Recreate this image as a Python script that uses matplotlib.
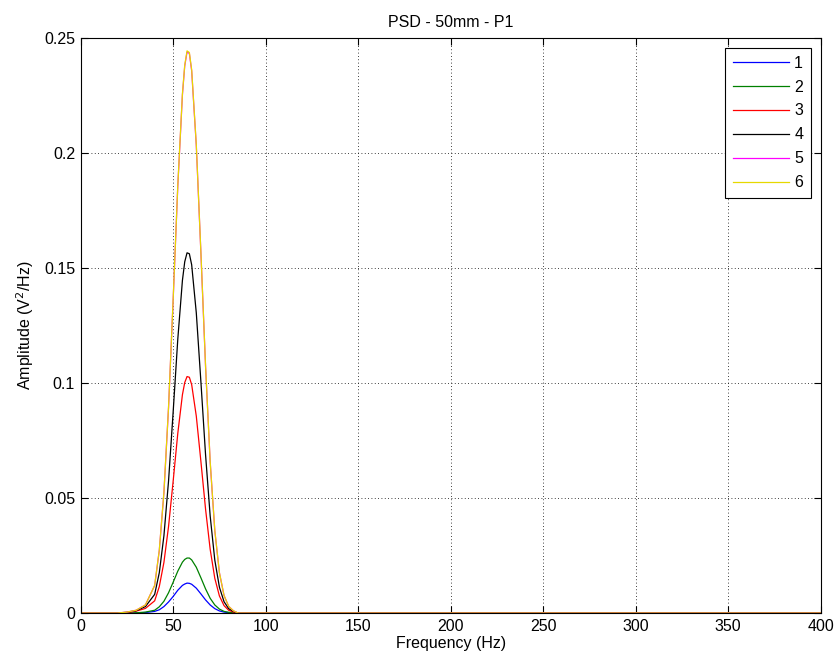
import matplotlib

matplotlib.use("Agg")
import matplotlib.pyplot as plt
from matplotlib.ticker import FuncFormatter

plt.rcParams["font.family"] = ["Liberation Sans", "DejaVu Sans"]

freq = [0, 20, 25, 30, 35, 40, 42.5, 45, 47.5, 50, 52.5, 55, 56.25, 57.5, 58.75,
        60, 62.5, 65, 67.5, 70, 72.5, 75, 77.5, 80, 82.5, 85, 400]

psd_1 = [0, 0, 0, 0, 0.0002, 0.0007, 0.0014, 0.0028, 0.0048, 0.0072, 0.0099,
         0.0120, 0.0126, 0.0130, 0.0129, 0.0125, 0.0108, 0.0083, 0.0057, 0.0035,
         0.0019, 0.0009, 0.0004, 0.0002, 0.0001, 0, 0]
psd_2 = [0, 0, 0, 0.0001, 0.0004, 0.0012, 0.0027, 0.0051, 0.0088, 0.0134,
         0.0182, 0.0221, 0.0233, 0.0239, 0.0239, 0.0231, 0.0199, 0.0153, 0.0105,
         0.0064, 0.0035, 0.0017, 0.0007, 0.0003, 0.0001, 0, 0]
psd_3 = [0, 0, 0.0002, 0.0008, 0.0020, 0.0053, 0.0115, 0.0220, 0.0376, 0.0574,
         0.0781, 0.0949, 0.1002, 0.1028, 0.1025, 0.0993, 0.0856, 0.0658, 0.0452,
         0.0277, 0.0151, 0.0074, 0.0032, 0.0012, 0.0004, 0, 0]
psd_4 = [0, 0, 0.0003, 0.0010, 0.0028, 0.0081, 0.0175, 0.0336, 0.0574, 0.0875,
         0.1191, 0.1446, 0.1527, 0.1566, 0.1562, 0.1514, 0.1305, 0.1004, 0.0689,
         0.0422, 0.0230, 0.0112, 0.0049, 0.0019, 0.0007, 0, 0]
psd_5 = [0, 0, 0.0004, 0.0012, 0.0035, 0.0120, 0.0272, 0.0523, 0.0893, 0.1363,
         0.1855, 0.2252, 0.2378, 0.2439, 0.2433, 0.2357, 0.2032, 0.1563, 0.1073,
         0.0657, 0.0358, 0.0175, 0.0076, 0.0029, 0.0010, 0, 0]
psd_6 = [0, 0, 0.0004, 0.0012, 0.0035, 0.0120, 0.0273, 0.0524, 0.0895, 0.1366,
         0.1859, 0.2257, 0.2382, 0.2444, 0.2437, 0.2362, 0.2036, 0.1566, 0.1075,
         0.0658, 0.0359, 0.0175, 0.0076, 0.0029, 0.0010, 0, 0]

series = [psd_1, psd_2, psd_3, psd_4, psd_5, psd_6]
labels = ["1", "2", "3", "4", "5", "6"]
colors = ["#0000ff", "#008000", "#ff0000", "#000000", "#ff00ff", "#e6d800"]

x_ticks = [0, 50, 100, 150, 200, 250, 300, 350, 400]
y_ticks = [0, 0.05, 0.1, 0.15, 0.2, 0.25]

fig = plt.figure(figsize=(8.35, 6.63), dpi=100)
ax = fig.add_axes([0.0966, 0.0754, 0.8863, 0.8673])

for values, label, color in zip(series, labels, colors):
    ax.plot(freq, values, color=color, linewidth=0.9, label=label)

ax.set_xlim(0, 400)
ax.set_ylim(0, 0.25)
ax.set_xticks(x_ticks)
ax.set_yticks(y_ticks)
ax.yaxis.set_major_formatter(FuncFormatter(lambda v, _: f"{v:g}"))
ax.tick_params(direction="in", top=True, right=True, length=5, width=0.8,
               labelsize=11.5, pad=4)
ax.grid(True, color="black", linestyle=(0, (1, 3)), linewidth=0.6)
for spine in ax.spines.values():
    spine.set_linewidth(0.8)

ax.set_title("PSD - 50mm - P1", fontsize=11.5, pad=8)
ax.set_xlabel("Frequency (Hz)", fontsize=11.5, labelpad=2)
ax.set_ylabel("Amplitude (V$^2$/Hz)", fontsize=11.5, labelpad=6)

leg = ax.legend(loc="upper right", fontsize=11.5, handlelength=3.5,
                handletextpad=0.3, labelspacing=0.56, borderpad=0.5,
                borderaxespad=0.6, fancybox=False, framealpha=1,
                edgecolor="black")
leg.get_frame().set_linewidth(0.8)

fig.savefig("out.png", dpi=100)
plt.close(fig)
